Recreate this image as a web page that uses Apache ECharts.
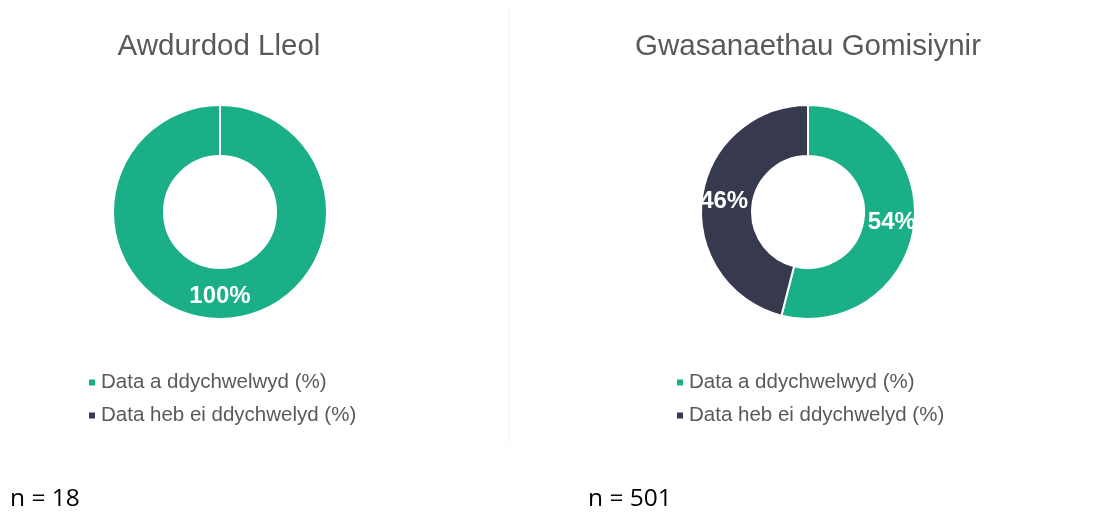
<!DOCTYPE html>
<html>
<head>
<meta charset="utf-8">
<script src="https://cdn.jsdelivr.net/npm/echarts@6/dist/echarts.min.js"></script>
<style>
  html, body { margin: 0; padding: 0; background: #fff; }
  #chart { width: 1095px; height: 513px; }
</style>
</head>
<body>
<div id="chart"></div>
<script>
// data
var categories = ['Data a ddychwelwyd (%)', 'Data heb ei ddychwelyd (%)'];
var panelTitles = ['Awdurdod Lleol', 'Gwasanaethau Gomisiynir'];
var localValues = [100, 0];
var commissionedValues = [54, 46];
var sampleSizes = ['n = 18', 'n = 501'];
var colours = ['#1aaf86', '#373a4e'];

var mychart = echarts.init(document.getElementById('chart'));

function makePie(values, cx) {
  return {
    type: 'pie',
    center: [cx, 212],
    radius: [56, 107],
    startAngle: 90,
    clockwise: true,
    avoidLabelOverlap: false,
    silent: true,
    stillShowZeroSum: true,
    minShowLabelAngle: 1,
    itemStyle: { borderColor: '#fff', borderWidth: 2 },
    label: {
      show: true,
      position: 'inside',
      formatter: function (p) { return p.value > 0 ? p.value + '%' : ''; },
      color: '#fff',
      fontFamily: 'Liberation Sans',
      fontWeight: 'bold',
      fontSize: 24
    },
    labelLine: { show: false },
    data: categories.map(function (c, i) {
      return { name: c, value: values[i] };
    })
  };
}

function makeLegend(left) {
  return {
    orient: 'vertical',
    left: left,
    top: 367,
    itemGap: 12,
    icon: 'rect',
    itemWidth: 8,
    itemHeight: 8,
    textStyle: { color: '#595959', fontSize: 20.5, fontFamily: 'Liberation Sans' },
    data: categories
  };
}

var option = {
  color: colours,
  animation: false,
  title: [
    {
      text: panelTitles[0], left: 214, top: 27, textAlign: 'center',
      textStyle: { color: '#595959', fontSize: 29.5, fontWeight: 'normal', fontFamily: 'Liberation Sans' }
    },
    {
      text: panelTitles[1], left: 803, top: 27, textAlign: 'center',
      textStyle: { color: '#595959', fontSize: 29.5, fontWeight: 'normal', fontFamily: 'Liberation Sans' }
    }
  ],
  legend: [makeLegend(82), makeLegend(670)],
  graphic: [
    {
      type: 'line', shape: { x1: 509, y1: 10, x2: 509, y2: 443 },
      style: { stroke: '#f0f0f0', lineWidth: 1 }
    },
    {
      type: 'text', left: 10, top: 487,
      style: { text: sampleSizes[0], fill: '#000', fontSize: 24.5, fontFamily: 'Open Sans' }
    },
    {
      type: 'text', left: 588, top: 487,
      style: { text: sampleSizes[1], fill: '#000', fontSize: 24.5, fontFamily: 'Open Sans' }
    }
  ],
  series: [makePie(localValues, 220), makePie(commissionedValues, 808)]
};
mychart.setOption(option, true);
</script>
</body>
</html>
